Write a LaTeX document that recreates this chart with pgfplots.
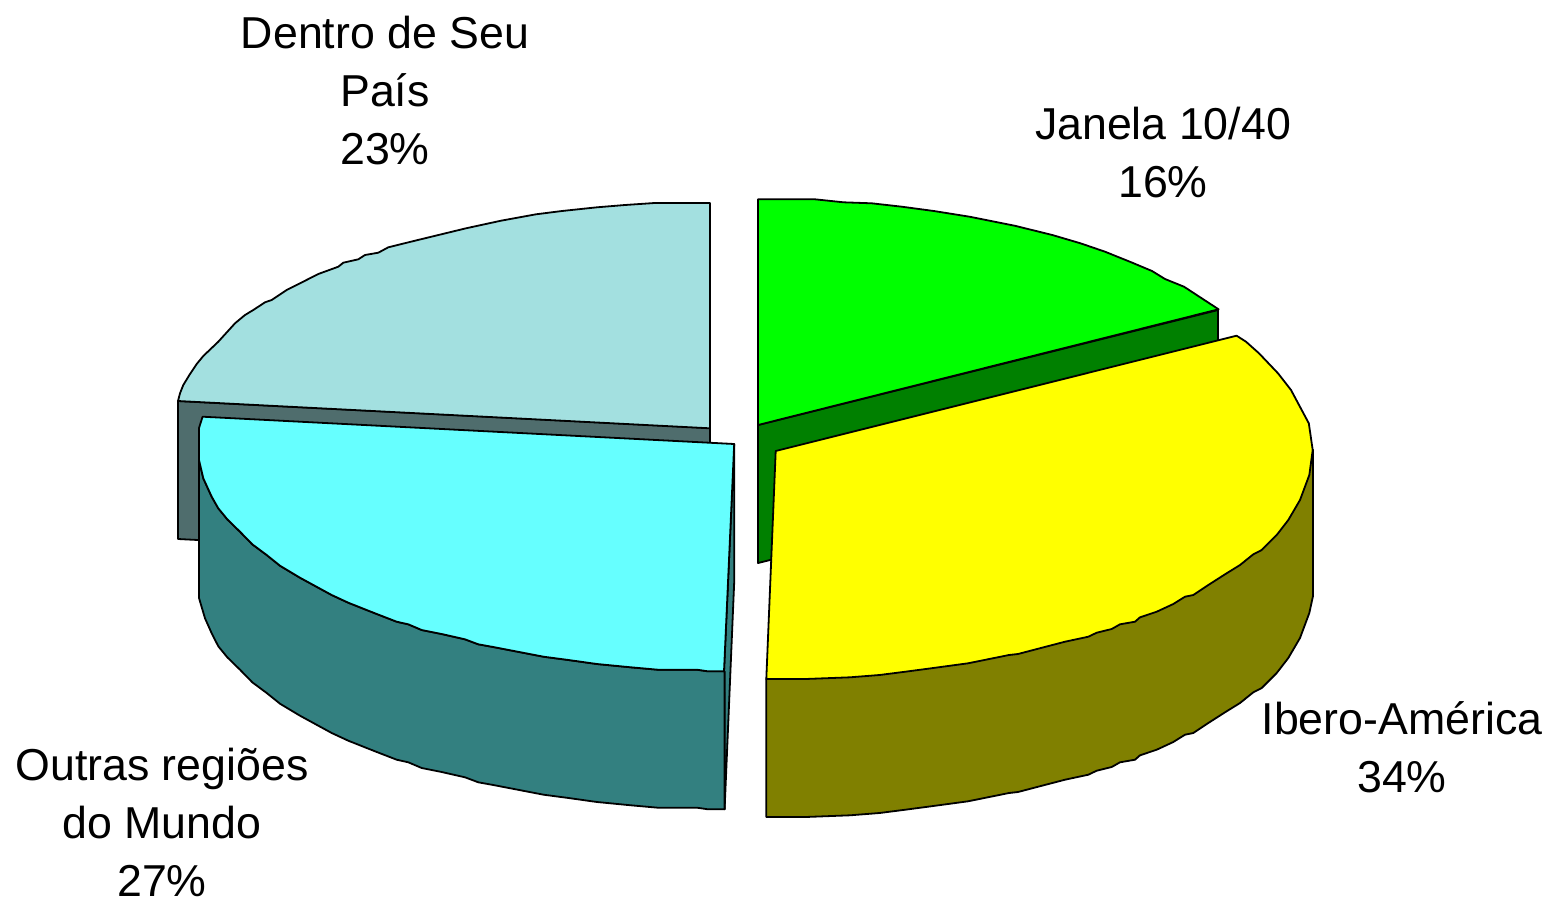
\documentclass[border=0pt]{standalone}
\usepackage{fontspec}
\setmainfont{Liberation Sans}
\usepackage{pgfplots}
\pgfplotsset{compat=1.18}

\definecolor{paleteal}{HTML}{A3E0E0}
\definecolor{paledark}{HTML}{4F6D6D}
\definecolor{cyantop}{HTML}{66FFFF}
\definecolor{tealside}{HTML}{338080}
\definecolor{greentop}{HTML}{00FF00}
\definecolor{greenside}{HTML}{008000}
\definecolor{yellowtop}{HTML}{FFFF00}
\definecolor{oliveside}{HTML}{808000}

\tikzset{
  face/.style={draw=black, line width=1.8pt, line join=round},
  lab/.style={align=center, font=\fontsize{44.7}{58}\selectfont, text=black}}

\begin{document}
\begin{tikzpicture}
\begin{axis}[
  hide axis, scale only axis, clip=false,
  width=1547pt, height=900pt,
  xmin=0, xmax=1547, ymin=0, ymax=900, y dir=reverse]

% Dentro de Seu Pais
\addplot[face, fill=paledark] coordinates {(178,401) (710,428) (710,566) (178,539)} -- cycle;
\addplot[face, fill=paleteal] coordinates {(710,203) (654.6,203) (625,205) (597,207.3) (562,211) (536,214.3) (501,220.7) (466,228.3) (415,240.7) (388.3,247.3) (378.3,252.7) (365,255) (358.3,259.3) (343.3,262.7) (338.3,266.7) (318.3,274) (300,283.3) (286.7,290) (271.7,300) (265,302.3) (253.3,310) (245,315) (235,323.3) (218.3,341.7) (203.3,356) (196.7,364) (190,374) (183.3,385) (180,393.3) (178,401) (710,428.3)} -- cycle;

% Janela 10/40
\addplot[face, fill=greenside] coordinates {(758,425) (1218,310) (1218,448) (758,563)} -- cycle;
\addplot[face, fill=greentop] coordinates {(758,199.3) (815,199.3) (843.5,202.3) (871.7,203.3) (901.8,206.7) (933.8,211) (969.5,216.7) (1014.6,225.7) (1052.3,235) (1080.5,243.3) (1105,251.7) (1131.3,262.3) (1152,271) (1165,279) (1184,286.7) (1202.8,299) (1218.6,309.3) (758,425)} -- cycle;

% Outras regioes do Mundo
\addplot[face, fill=tealside] coordinates {(734.2,444) (734.2,582) (724.6,809.3) (724,671.3)} -- cycle;
\addplot[face, fill=tealside] coordinates {(199,460) (203.3,478.3) (211.7,496.7) (218.3,508.3) (227.3,519.3) (240,531.7) (252.3,544.3) (266.7,555) (280,565.7) (300,577.7) (318.3,587.7) (331.7,595) (348.3,602.7) (375,613.3) (396.7,621.7) (408.3,624.3) (421.7,630) (441.7,634) (465,639.3) (478.3,644.3) (493.3,647) (543.6,656.7) (568.6,660) (597,664) (631,667.3) (657.9,669.7) (697,669.7) (708,671.3) (724.6,671.3) (724.6,809.3) (708,809.3) (697,807.7) (657.9,807.7) (631,805.3) (597,802) (568.6,798) (543.6,794.7) (493.3,785) (478.3,782.3) (465,777.3) (441.7,772) (421.7,768) (408.3,762.3) (396.7,759.7) (375,751.3) (348.3,740.7) (331.7,733) (318.3,725.7) (300,715.7) (280,703.7) (266.7,693) (252.3,682.3) (240,669.7) (227.3,657.3) (218.3,646.3) (211.7,633.3) (205,618.3) (199,598)} -- cycle;
\addplot[face, fill=cyantop] coordinates {(202.6,416.7) (734.2,444) (724,671.3) (708,671.3) (697,669.7) (657.9,669.7) (631,667.3) (597,664) (568.6,660) (543.6,656.7) (493.3,647) (478.3,644.3) (465,639.3) (441.7,634) (421.7,630) (408.3,624.3) (396.7,621.7) (375,613.3) (348.3,602.7) (331.7,595) (318.3,587.7) (300,577.7) (280,565.7) (266.7,555) (252.3,544.3) (240,531.7) (227.3,519.3) (218.3,508.3) (211.7,496.7) (203.3,478.3) (199,460) (198.9,428.3)} -- cycle;

% Ibero-America
\addplot[face, fill=oliveside] coordinates {(1313,450) (1313,596) (1309.3,613) (1300,638) (1288.3,658) (1276.7,673) (1261.7,688) (1253.3,692.3) (1240,703) (1225,712.3) (1208.3,723) (1193.3,733) (1185,734.7) (1173.3,742) (1156.7,749.7) (1140,755.3) (1135,759.7) (1120,762.3) (1111.7,767) (1096.7,770.7) (1088.3,774.7) (1065,779.7) (1042,785.7) (1018,792) (1009,793) (968,801.3) (931,806.3) (905.4,809.7) (879.5,813) (850,815.3) (805.5,817) (766.3,817) (766.3,679)} -- cycle;
\addplot[face, fill=yellowtop] coordinates {(775.7,451) (1236.6,335.7) (1246,341.7) (1259,353.3) (1278,373.3) (1291,390) (1308.8,423.3) (1312.7,450) (1309.3,475) (1300,500) (1288.3,520) (1276.7,535) (1261.7,550) (1253.3,554.3) (1240,565) (1225,574.3) (1208.3,585) (1193.3,595) (1185,596.7) (1173.3,604) (1156.7,611.7) (1140,617.3) (1135,621.7) (1120,624.3) (1111.7,629) (1096.7,632.7) (1088.3,636.7) (1065,641.7) (1042,647.7) (1018,654) (1009,655) (968,663.3) (931,668.3) (905.4,671.7) (879.5,675) (850,677.3) (805.5,679) (766.3,679)} -- cycle;

\node[lab] at (axis cs:385,91) {Dentro de Seu\\País\\23\%};
\node[lab] at (axis cs:1163,153) {Janela 10/40\\16\%};
\node[lab] at (axis cs:1402,747) {Ibero-América\\34\%};
\node[lab] at (axis cs:162,822) {Outras regiões\\do Mundo\\27\%};
\end{axis}
\pgfresetboundingbox
\path (0,0) rectangle (1547pt,900pt);
\end{tikzpicture}
\end{document}
